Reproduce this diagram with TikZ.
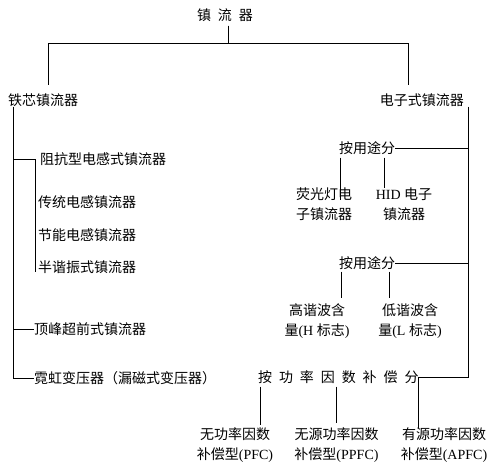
\documentclass[tikz,border=0pt]{standalone}
\usepackage{fontspec}
\setmainfont{Liberation Serif}
\newfontfamily\zhfont{Noto Sans CJK SC}
\tikzset{
  lbl/.style={font=\zhfont\fontsize{14}{20}\selectfont, inner sep=0pt, align=center},
  link/.style={draw=black, line width=0.9pt},
}
\newcommand{\zgap}{\hspace{6.9pt}}

\begin{document}
\begin{tikzpicture}[x=1pt, y=-1pt]
  \useasboundingbox[fill=white] (0,0) rectangle (504,470);
  \coordinate (ltrunk) at (13,0);
  \coordinate (rtrunk) at (468,0);

  % top level
  \node[lbl] (root) at (225,15) {镇\zgap 流\zgap 器};
  \node[lbl, anchor=west] (iron) at (8,100) {铁芯镇流器};
  \node[lbl, anchor=east] (elec) at (464,100) {电子式镇流器};
  \draw[link, shorten <=4pt] ([xshift=3pt]root.south) |- (48,43) -- (48,85);
  \draw[link, shorten <=4pt] ([xshift=3pt]root.south) |- (408,43) -- (408,85);

  % iron core branch
  \node[lbl, anchor=west] (imp) at (40,159) {阻抗型电感式镇流器};
  \node[lbl, anchor=west] (trad) at (38,202) {传统电感镇流器};
  \node[lbl, anchor=west] (save) at (38,235) {节能电感镇流器};
  \node[lbl, anchor=west] (half) at (38,267) {半谐振式镇流器};
  \node[lbl, anchor=west] (peak) at (34,329) {顶峰超前式镇流器};
  \node[lbl, anchor=west] (neon) at (34,378) {霓虹变压器（漏磁式变压器）};
  \draw[link] (iron.south -| ltrunk) -- (neon.west -| ltrunk) -- (neon.west);
  \draw[link] (peak.west -| ltrunk) -- (peak.west);
  \draw[link] (imp.west -| ltrunk) -- ++(22,0) coordinate (isub) -- ([yshift=2pt]isub |- half.south);

  % electronic branch
  \node[lbl, anchor=west] (use1) at (339,148) {按用途分};
  \node[lbl] (fl) at (324,204.5) {荧光灯电\\子镇流器};
  \node[lbl] (hid) at (404,204.5) {\textrm{HID }电子\\镇流器};
  \node[lbl, anchor=west] (use2) at (339,263) {按用途分};
  \node[lbl] (hi) at (317,321.5) {高谐波含\\量\textrm{(H }标志\textrm{)}};
  \node[lbl] (lo) at (410,321.5) {低谐波含\\量\textrm{(L }标志\textrm{)}};
  \node[lbl, anchor=west] (pf) at (258,377) {按\zgap 功\zgap 率\zgap 因\zgap 数\zgap 补\zgap 偿\zgap 分};
  \node[lbl] (nopf) at (235,445.5) {无功率因数\\补偿型\textrm{(PFC)}};
  \node[lbl] (ppf) at (336.5,445.5) {无源功率因数\\补偿型\textrm{(PPFC)}};
  \node[lbl] (apf) at (444,445.5) {有源功率因数\\补偿型\textrm{(APFC)}};

  \draw[link] (elec.south -| rtrunk) |- (pf.east);
  \draw[link] (use1.east) -- (use1.east -| rtrunk);
  \draw[link] (use2.east) -- (use2.east -| rtrunk);

  \draw[link] (use1.south west) ++(1,3) -- ++(0,42);
  \draw[link] (use1.south west) ++(45,3) coordinate (h1) -- (h1 |- hid.north);
  \draw[link] (use2.south west) ++(2,2) -- ++(0,26);
  \draw[link] (use2.south west) ++(50,2) -- ++(0,26);

  \draw[link] (pf.south west) ++(2,3) coordinate (p1) -- ([yshift=3pt]p1 |- nopf.north);
  \draw[link] (pf.south west) ++(78,3) coordinate (p2) -- ([yshift=5pt]p2 |- ppf.north);
  \draw[link] (pf.east) -- (pf.east |- apf.north);
\end{tikzpicture}
\end{document}
